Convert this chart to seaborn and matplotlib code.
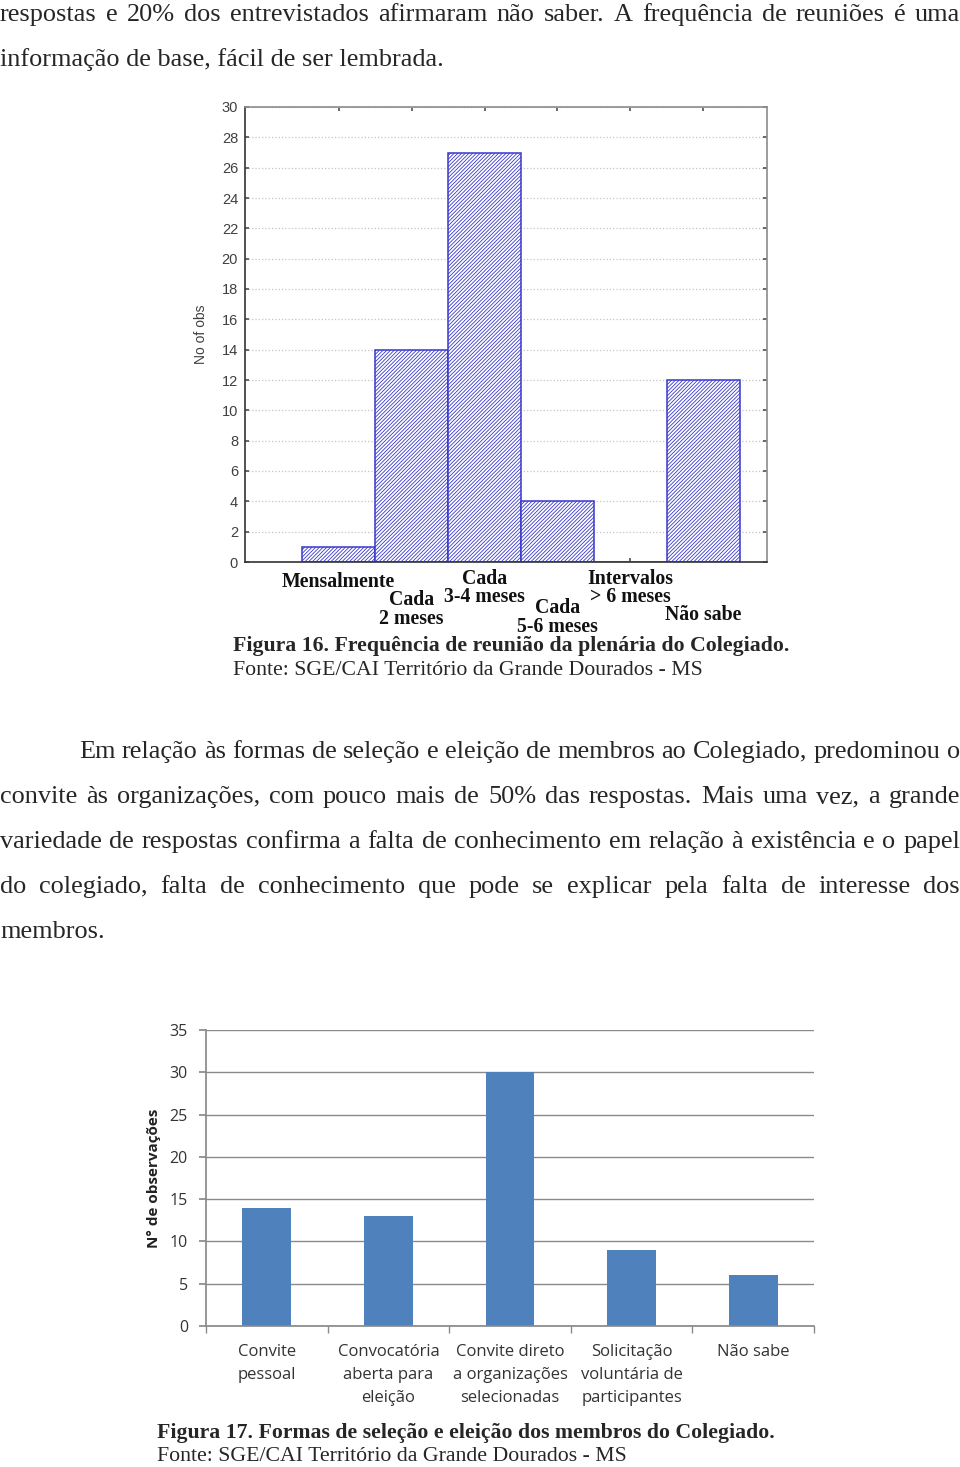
import matplotlib
matplotlib.use('Agg')
import matplotlib.pyplot as plt
import matplotlib.transforms as mtransforms
import seaborn as sns
import pandas as pd

# dados da Figura 16
freq_labels = ['Mensalmente', 'Cada\n2 meses', 'Cada\n3-4 meses', 'Cada\n5-6 meses',
               'Intervalos\n> 6 meses', 'Não sabe']
freq_counts = [1, 14, 27, 4, 0, 12]

# dados da Figura 17
sel_labels = ['Convite\npessoal', 'Convocatória\naberta para\neleição',
              'Convite direto\na organizações\nselecionadas',
              'Solicitação\nvoluntária de\nparticipantes', 'Não sabe']
sel_counts = [14, 13, 30, 9, 6]

W, H = 960, 1467
BLUE = '#3838cc'

sns.set_theme(style='white')
plt.rcParams['font.family'] = ['Liberation Serif', 'DejaVu Serif']
plt.rcParams['hatch.color'] = BLUE
plt.rcParams['hatch.linewidth'] = 0.6

fig = plt.figure(figsize=(W / 100, H / 100), dpi=100)
renderer = fig.canvas.get_renderer()


def fx(px):
    return px / W


def fy(py):
    return 1 - py / H


def text_line(s, x0, x1, y, fs, justify=False, **kw):
    # desenha uma linha de texto, justificada se pedido
    if not justify:
        fig.text(fx(x0), fy(y), s, fontsize=fs, va='baseline', ha='left', **kw)
        return
    words = s.split(' ')
    objs = [fig.text(0, fy(y), w, fontsize=fs, va='baseline', ha='left', **kw) for w in words]
    widths = [t.get_window_extent(renderer).width for t in objs]
    gap = (x1 - x0 - sum(widths)) / (len(words) - 1)
    x = x0
    for t, w in zip(objs, widths):
        t.set_x(fx(x))
        x += w + gap


BODY = 18.9
CAP = 15.7

# texto da página
text_line('respostas e 20% dos entrevistados afirmaram não saber. A frequência de reuniões é uma',
          0, 960, 21, BODY, justify=True)
text_line('informação de base, fácil de ser lembrada.', 0, 960, 66, BODY)

par = ['Em relação às formas de seleção e eleição de membros ao Colegiado, predominou o',
       'convite às organizações, com pouco mais de 50% das respostas. Mais uma vez, a grande',
       'variedade de respostas confirma a falta de conhecimento em relação à existência e o papel',
       'do colegiado, falta de conhecimento que pode se explicar pela falta de interesse dos']
for i, s in enumerate(par):
    text_line(s, 79 if i == 0 else 0, 960, 758 + 45 * i, BODY, justify=True)
text_line('membros.', 0, 960, 938, BODY)

text_line('Figura 16. Frequência de reunião da plenária do Colegiado.', 233, 960, 651, CAP,
          fontweight='bold')
text_line('Fonte: SGE/CAI Território da Grande Dourados - MS', 233, 960, 675, CAP)
text_line('Figura 17. Formas de seleção e eleição dos membros do Colegiado.', 157, 960, 1438, CAP,
          fontweight='bold')
text_line('Fonte: SGE/CAI Território da Grande Dourados - MS', 157, 960, 1461, CAP)

# ==========================================
# Figura 16 - estilo STATISTICA
# ==========================================
ax1 = fig.add_axes([fx(245), fy(562), 522 / W, 455 / H])
df1 = pd.DataFrame({'freq': freq_labels, 'n': freq_counts})
sns.barplot(data=df1, x='freq', y='n', ax=ax1, width=1, color='white',
            saturation=1, linewidth=1.1, edgecolor=BLUE)
for p in ax1.patches:
    p.set_facecolor('white')
    p.set_edgecolor(BLUE)
    p.set_hatch('/' * 9)

ax1.set_xlim(-1.281, 5.870)
ax1.set_ylim(0, 30)
ax1.set_yticks(range(0, 31, 2))
ax1.set_axisbelow(True)
ax1.grid(axis='y', linestyle=':', color='#c4c4c4', lw=0.9)
ax1.tick_params(axis='y', direction='in', length=3, left=True, right=True,
                labelsize=10.5, labelcolor='#404040', color='#555555', pad=5)
ax1.tick_params(axis='x', direction='in', length=3, top=True, bottom=True,
                labelbottom=False, color='#555555')
for lab in ax1.get_yticklabels():
    lab.set_family('Liberation Sans')
for side in ['left', 'bottom']:
    ax1.spines[side].set_color('#3a3a3a')
for side in ['top', 'right']:
    ax1.spines[side].set_color('#909090')
ax1.set_xlabel('')
ax1.set_ylabel('No of obs', family='Liberation Sans', fontsize=10, color='#404040')
ax1.yaxis.set_label_coords(-0.07, 0.5)

# rótulos escalonados como no original
offsets = [10, 28, 7, 36, 7, 43]
trans = mtransforms.blended_transform_factory(ax1.transData, ax1.transAxes)
for i, (lab, off) in enumerate(zip(freq_labels, offsets)):
    t = mtransforms.offset_copy(trans, fig=fig, y=-off, units='dots')
    ax1.text(i, 0, lab, transform=t, ha='center', va='top', fontsize=14.3,
             fontweight='bold', linespacing=0.9, color='#111111')

# ==========================================
# Figura 17 - estilo Excel
# ==========================================
ax2 = fig.add_axes([fx(206), fy(1326), 608 / W, 296 / H])
df2 = pd.DataFrame({'forma': sel_labels, 'n': sel_counts})
sns.barplot(data=df2, x='forma', y='n', ax=ax2, width=0.4, color='#4F81BD',
            saturation=1, linewidth=0)
ax2.set_xlim(-0.5, 4.5)
ax2.set_ylim(0, 35)
ax2.set_yticks(range(0, 36, 5))
ax2.set_axisbelow(True)
ax2.grid(axis='y', color='#8a8a8a', lw=1.0)
ax2.set_xticks([x - 0.5 for x in range(6)], minor=True)
ax2.tick_params(axis='x', which='major', length=0, pad=13, labelsize=12, labelcolor='#333333')
ax2.tick_params(axis='x', which='minor', length=5, color='#8a8a8a', bottom=True)
ax2.tick_params(axis='y', length=5, color='#8a8a8a', left=True, labelsize=11.5,
                labelcolor='#333333', pad=8)
for lab in ax2.get_xticklabels():
    lab.set_family('Open Sans')
    lab.set_linespacing(1.6)
for lab in ax2.get_yticklabels():
    lab.set_family('Open Sans')
for side in ['top', 'right']:
    ax2.spines[side].set_visible(False)
for side in ['left', 'bottom']:
    ax2.spines[side].set_color('#8a8a8a')
ax2.set_xlabel('')
ax2.set_ylabel('N° de observações', family='Open Sans', fontweight='bold', fontsize=11,
               color='#222222')
ax2.yaxis.set_label_coords(-0.074, 0.5)

fig.savefig('out.png', dpi=100)
